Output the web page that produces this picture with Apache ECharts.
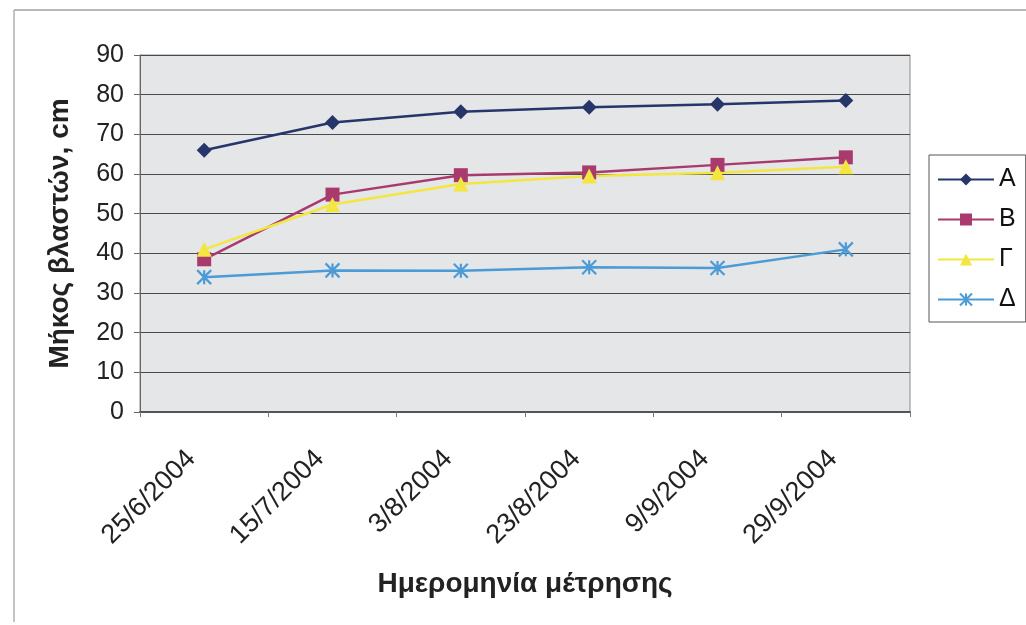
<!DOCTYPE html>
<html>
<head>
<meta charset="utf-8">
<style>
  html, body { margin: 0; padding: 0; background: #ffffff; }
  #chart { width: 1026px; height: 625px; }
</style>
<script src="https://cdn.jsdelivr.net/npm/echarts@6/dist/echarts.min.js"></script>
</head>
<body>
<div id="chart"></div>
<script>
// Measurement dates and shoot lengths (cm) for the four treatments
const dates = ['25/6/2004', '15/7/2004', '3/8/2004', '23/8/2004', '9/9/2004', '29/9/2004'];
const seriesA = [66, 73, 75.7, 76.8, 77.6, 78.5];
const seriesB = [38.5, 54.8, 59.7, 60.4, 62.3, 64.2];
const seriesG = [41, 52.3, 57.5, 59.5, 60.3, 61.8];
const seriesD = [34, 35.7, 35.6, 36.5, 36.3, 41];
const yTicks = [0, 10, 20, 30, 40, 50, 60, 70, 80, 90];

const FONT = '"Liberation Sans", Arial, sans-serif';

// X-shaped marker for series Δ
const crossPath = 'path://M0,0 L10,10 M10,0 L0,10 M5,0 L5,10';

function line(name, data, color, symbol, size) {
  return {
    name: name,
    type: 'line',
    data: data,
    symbol: symbol,
    symbolSize: size,
    lineStyle: { color: color, width: 2.5 },
    itemStyle: { color: color, borderColor: color, borderWidth: symbol === crossPath ? 2.2 : 0 },
    emphasis: { disabled: true },
    z: 3
  };
}

const chart = echarts.init(document.getElementById('chart'));
chart.setOption({
  animation: false,
  backgroundColor: '#ffffff',
  graphic: [
    { type: 'line', shape: { x1: 14, y1: 10, x2: 1026, y2: 10 }, style: { stroke: '#a0a0a0', lineWidth: 1.5 } },
    { type: 'line', shape: { x1: 14, y1: 10, x2: 14, y2: 622 }, style: { stroke: '#b0b0b0', lineWidth: 1.5 } }
  ],
  grid: {
    left: 140, top: 55, right: 116, bottom: 213,
    show: true, backgroundColor: '#e4e6e8', borderColor: '#8a8a8a', borderWidth: 1
  },
  legend: {
    orient: 'vertical',
    left: 929, top: 155,
    padding: [12, 10, 10, 8],
    itemGap: 15,
    itemWidth: 56, itemHeight: 15,
    borderColor: '#555', borderWidth: 1,
    backgroundColor: '#ffffff',
    textStyle: { fontFamily: FONT, fontSize: 25, color: '#111', padding: [0, 0, 0, 0] },
    data: ['Α', 'Β', 'Γ', 'Δ']
  },
  xAxis: {
    type: 'category',
    data: dates,
    boundaryGap: true,
    name: 'Ημερομηνία μέτρησης',
    nameLocation: 'middle',
    nameGap: 158,
    nameTextStyle: { fontFamily: FONT, fontSize: 28, fontWeight: 'bold', color: '#222' },
    axisLine: { lineStyle: { color: '#555', width: 2 } },
    axisTick: { show: true, length: 5, lineStyle: { color: '#777' } },
    axisLabel: { rotate: 45, margin: 30, padding: [0, 18, 0, 0], fontFamily: FONT, fontSize: 27, color: '#222', interval: 0 },
    splitLine: { show: false }
  },
  yAxis: {
    type: 'value',
    min: yTicks[0], max: yTicks[yTicks.length - 1], interval: 10,
    name: 'Μήκος βλαστών, cm',
    nameLocation: 'middle',
    nameGap: 66,
    nameTextStyle: { fontFamily: FONT, fontSize: 28, fontWeight: 'bold', color: '#222' },
    axisLine: { show: true, lineStyle: { color: '#666', width: 1 } },
    axisTick: { show: true, length: 6, lineStyle: { color: '#666' } },
    axisLabel: { margin: 16, fontFamily: FONT, fontSize: 25, color: '#222' },
    splitLine: { show: true, lineStyle: { color: '#4a4a4a', width: 1 } }
  },
  series: [
    line('Α', seriesA, '#27366a', 'diamond', 15),
    line('Β', seriesB, '#a83a6e', 'rect', 14),
    line('Γ', seriesG, '#f3e640', 'triangle', 15),
    line('Δ', seriesD, '#4b9bd6', crossPath, 14)
  ]
});
</script>
</body>
</html>
